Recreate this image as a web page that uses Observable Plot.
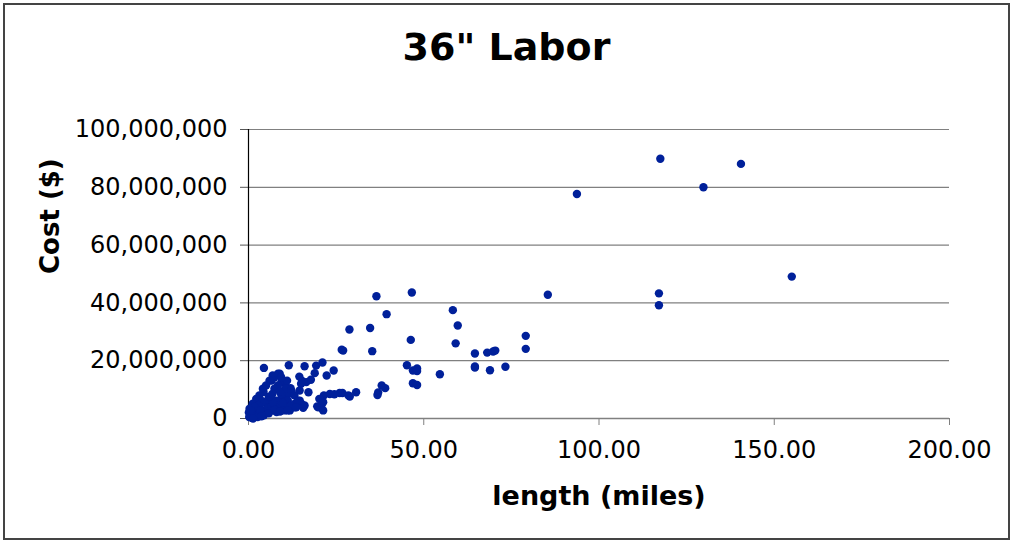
<!DOCTYPE html>
<html>
<head>
<meta charset="utf-8">
<script src="https://cdn.jsdelivr.net/npm/d3@7"></script>
<script src="https://cdn.jsdelivr.net/npm/@observablehq/plot@0.6"></script>
<style>
  body { margin: 0; background: #fff; }
  #chart { position: relative; width: 1013px; height: 541px; background: #fff; font-family: "DejaVu Sans", Verdana, sans-serif; }
  #frame { position: absolute; left: 3px; top: 3px; width: 1003px; height: 533px; border: 2px solid #444; pointer-events: none; }
  #title { position: absolute; left: 0; width: 1013px; top: 22px; text-align: center; font-size: 38px; font-weight: bold; line-height: 50px; color: #000; }
  #plot { position: absolute; left: 0; top: 100px; }
</style>
</head>
<body>
<div id="chart">
  <div id="title">36" Labor</div>
  <div id="plot"></div>
  <div id="frame"></div>
</div>
<script>
// length (miles)
const lengthMiles = [
  93.7,117.5,129.8,140.5,155.0,
  85.4,117.1,117.1,79.1,79.1,73.3,
  36.5,46.6,39.4,58.3,59.7,28.8,34.7,46.3,59.1,27.0,26.6,35.3,64.6,68.1,70.4,69.8,45.2,46.9,48.1,48.1,54.6,64.6,64.6,68.9,46.9,48.1,38.0,39.0,37.0,36.8,26.8,28.9,30.7,
  4.4,11.5,16.0,19.3,21.1,18.9,24.3,22.3,8.9,7.4,6.6,9.4,15.3,17.8,16.5,17.1,21.5,23.2,26.0,24.5,28.5,20.2,21.3,19.6,20.8,15.1,15.6,13.2,11.8,8.0,10.3,12.3,12.0,14.6,10.3,10.8,11.3,9.5,13.2,16.0,19.9,21.3,11.3,10.3,20.8,
  6.9,8.4,9.3,6.0,11.0,14.5,15.0,8.4,7.4,5.0,4.1,4.3,10.7,12.2,9.3,13.1,3.1,2.2,6.0,7.9,11.2,14.1,10.3,8.4,12.1,6.9,4.6,1.2,0.3,0.8,2.6,0.2,3.9,2.5,5.2,3.5,14.6,13.6,11.2,4.4,1.7,0.1,
  1.0,0.5,1.5,2.0,3.0,5.5,6.5,7.0,5.8,4.0,2.8,1.8,0.6,3.3,5.8,6.8,8.9,9.8,7.5,9.0,3.7,1.3
];
// cost ($ millions)
const costMillions = [
  77.7,89.9,80.0,88.1,49.1,
  42.8,43.3,39.2,28.6,24.1,17.9,
  42.3,43.6,36.1,37.5,32.2,30.8,31.3,27.2,26.0,23.5,23.8,23.3,22.5,22.8,23.5,23.2,18.4,16.6,17.3,16.4,15.3,18.0,17.6,16.7,12.2,11.6,11.4,10.5,9.0,8.1,8.8,7.6,9.1,
  17.5,18.4,18.1,18.3,19.4,15.7,16.6,14.9,15.5,14.3,13.1,12.6,13.0,13.4,12.6,9.1,8.0,8.5,8.8,8.4,8.0,6.8,5.6,4.2,3.7,5.1,3.7,3.9,2.8,2.2,7.4,9.1,10.5,9.7,10.0,10.8,8.5,7.4,5.1,4.5,3.9,2.8,3.9,2.8,6.2,
  14.9,15.5,14.3,13.1,13.1,14.5,12.0,11.4,10.3,11.4,10.3,9.2,10.3,9.7,8.5,8.0,8.0,6.8,6.8,6.2,6.2,6.2,4.5,3.9,4.5,2.8,2.8,5.1,3.4,1.6,0.5,0.5,2.1,3.6,5.1,5.1,6.2,3.9,2.8,1.1,2.1,2.1,
  0.2,1.0,1.2,2.6,1.4,3.5,4.2,5.5,7.5,6.0,4.5,4.0,2.8,2.9,1.8,8.5,9.3,5.4,3.0,2.4,0.8,0.0
];
const xTicks = [0, 50, 100, 150, 200];
const yTicks = [0, 20000000, 40000000, 60000000, 80000000, 100000000];
const xLabel = "length (miles)";
const yLabel = "Cost ($)";

const data = lengthMiles.map((m, i) => ({length: m, cost: costMillions[i] * 1e6}));

const fmtY = d3.format(",");
const fmtX = d3.format(".2f");

const chart = Plot.plot({
  width: 1013,
  height: 441,
  marginLeft: 248,
  marginRight: 64,
  marginTop: 29,
  marginBottom: 123,
  style: {fontFamily: '"DejaVu Sans", Verdana, sans-serif', background: "transparent", color: "#000"},
  x: {domain: [0, 200]},
  y: {domain: [0, 100000000]},
  marks: [
    Plot.gridY(yTicks, {stroke: "#808080", strokeOpacity: 1, strokeWidth: 1.2}),
    Plot.axisY(yTicks, {tickSize: 8, tickPadding: 13, fontSize: 24, tickFormat: fmtY, label: null, stroke: "#555"}),
    Plot.axisX(xTicks, {tickSize: 7, tickPadding: 15, fontSize: 24, tickFormat: fmtX, label: null, stroke: "#808080"}),
    Plot.ruleY([0], {stroke: "#808080", strokeWidth: 1.5}),
    Plot.ruleX([0], {stroke: "#000", strokeWidth: 1.2}),
    Plot.dot(data, {x: "length", y: "cost", r: 4.2, fill: "#00209a", stroke: null}),
    Plot.text([yLabel], {frameAnchor: "left", dx: -198, rotate: -90, fontSize: 26, fontWeight: "bold", fill: "#000"}),
    Plot.text([xLabel], {frameAnchor: "bottom", dy: 86, fontSize: 27, fontWeight: "bold", fill: "#000"})
  ]
});
document.getElementById("plot").appendChild(chart);
</script>
</body>
</html>
